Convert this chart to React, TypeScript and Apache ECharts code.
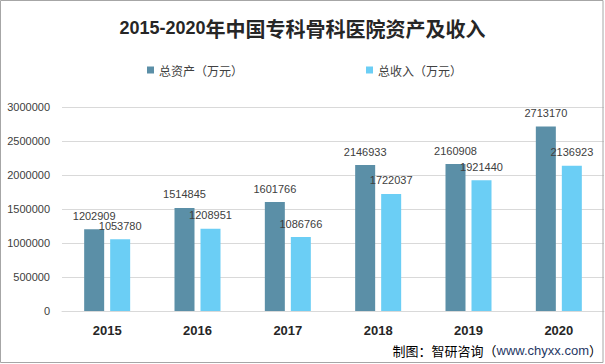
import React, { useEffect, useRef } from "react";
import * as echarts from "echarts";

const years = ["2015", "2016", "2017", "2018", "2019", "2020"];
const totalAssets = [1202909, 1514845, 1601766, 2146933, 2160908, 2713170];
const totalIncome = [1053780, 1208951, 1086766, 1722037, 1921440, 2136923];
const seriesNames = ["总资产（万元）", "总收入（万元）"];
const titleLatin = "2015-2020";
const titleCJK = "年中国专科骨科医院资产及收入";
const sourcePrefix = "制图：智研咨询（";
const sourceUrl = "www.chyxx.com";
const sourceSuffix = "）";

export default function App() {
  const ref = useRef<HTMLDivElement>(null);
  useEffect(() => {
    if (!ref.current) return;
    const chart = echarts.init(ref.current, null, { renderer: "svg" });
    const labelStyle = {
      show: true,
      position: "top" as const,
      distance: 8,
      fontSize: 11,
      fontFamily: "Liberation Sans, Arial, sans-serif",
      color: "#404040",
      formatter: (p: any) => String(p.value),
    };
    chart.setOption({
      animation: false,
      backgroundColor: "#ffffff",
      title: {
        text: `{a|${titleLatin}}{b|${titleCJK}}`,
        left: "center",
        top: 13,
        textStyle: {
          rich: {
            a: {
              fontSize: 18,
              fontWeight: "bold",
              color: "#262626",
              fontFamily: "Liberation Sans, Arial, sans-serif",
            },
            b: {
              fontSize: 20,
              fontWeight: "bold",
              color: "#262626",
              fontFamily: "Noto Sans CJK SC, sans-serif",
            },
          },
        },
      },
      legend: {
        left: 142,
        top: 59,
        itemWidth: 7,
        itemHeight: 7,
        itemGap: 123,
        icon: "rect",
        textStyle: {
          fontSize: 12,
          color: "#404040",
          fontFamily: "Noto Sans CJK SC, sans-serif",
        },
        data: seriesNames,
      },
      grid: { left: 62, right: 1, top: 107, bottom: 53 },
      xAxis: {
        type: "category",
        data: years,
        axisLine: { show: true, lineStyle: { color: "#d9d9d9", width: 1 } },
        axisTick: { show: false },
        axisLabel: {
          fontSize: 13,
          fontWeight: "bold",
          color: "#262626",
          margin: 13,
          fontFamily: "Liberation Sans, Arial, sans-serif",
        },
      },
      yAxis: {
        type: "value",
        min: 0,
        max: 3000000,
        interval: 500000,
        axisLine: { show: false },
        axisTick: { show: false },
        splitLine: { lineStyle: { color: "#d9d9d9", width: 1 } },
        axisLabel: {
          fontSize: 11,
          color: "#404040",
          margin: 12,
          fontFamily: "Liberation Sans, Arial, sans-serif",
          formatter: (v: number) => String(v),
        },
      },
      series: [
        {
          name: seriesNames[0],
          type: "bar",
          data: totalAssets,
          barWidth: 20,
          barGap: "30%",
          itemStyle: { color: "#5b8fa7" },
          label: labelStyle,
        },
        {
          name: seriesNames[1],
          type: "bar",
          data: totalIncome,
          barWidth: 20,
          itemStyle: { color: "#6bcef5" },
          label: labelStyle,
        },
      ],
      graphic: [
        {
          type: "rect",
          shape: { x: 0.5, y: 0.5, width: 602.5, height: 362 },
          style: { fill: "none", stroke: "#a6a6a6", lineWidth: 1 },
          silent: true,
          z: 100,
        },
        {
          type: "text",
          right: 3,
          top: 344,
          style: {
            text: `{a|${sourcePrefix}}{u|${sourceUrl}}{a|${sourceSuffix}}`,
            rich: {
              a: { fontSize: 13, fill: "#000000", fontFamily: "Noto Sans CJK SC, sans-serif" },
              u: { fontSize: 13, fill: "#1f3864", fontFamily: "Liberation Sans, Arial, sans-serif" },
            },
          },
        },
      ],
    });
    return () => chart.dispose();
  }, []);
  return (
    <div
      ref={ref}
      style={{ position: "fixed", left: 0, top: 0, width: 605, height: 364 }}
    />
  );
}
